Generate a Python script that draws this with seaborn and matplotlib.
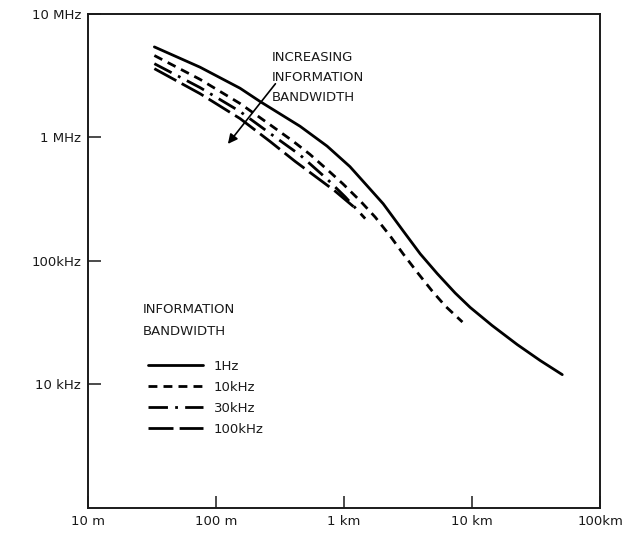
import matplotlib
matplotlib.use("Agg")
import matplotlib.pyplot as plt
import seaborn as sns
import pandas as pd

# --- Data ---
# distance in metres, frequency in Hz
DIST_1HZ = [33, 75, 154, 221, 453, 736, 1110, 1600, 2020, 2890, 3930, 5330,
            7360, 9650, 14300, 22500, 34000, 50500]
FREQ_1HZ = [5.4e6, 3.7e6, 2.5e6, 1.95e6, 1.23e6, 8.5e5, 5.8e5, 3.8e5, 2.9e5,
            1.75e5, 1.14e5, 7.9e4, 5.5e4, 4.2e4, 3.0e4, 2.1e4, 1.56e4, 1.2e4]

DIST_10K = [33, 75, 154, 263, 400, 540, 736, 980, 1340, 1750, 2290, 2890,
            3790, 4870, 6180, 8390]
FREQ_10K = [4.6e6, 2.95e6, 1.88e6, 1.27e6, 9.3e5, 7.3e5, 5.5e5, 4.2e5,
            3.05e5, 2.26e5, 1.59e5, 1.14e5, 7.9e4, 5.7e4, 4.3e4, 3.2e4]

DIST_30K = [33, 75, 154, 263, 453, 736, 1020, 1460]
FREQ_30K = [3.95e6, 2.53e6, 1.62e6, 1.08e6, 7.2e5, 4.6e5, 3.3e5, 2.2e5]

DIST_100K = [33, 75, 154, 263, 414, 593, 851, 1220]
FREQ_100K = [3.6e6, 2.26e6, 1.42e6, 9.3e5, 6.4e5, 4.85e5, 3.67e5, 2.68e5]

BANDS = ["1Hz", "10kHz", "30kHz", "100kHz"]

X_TICKS = [10, 100, 1000, 10000, 100000]
X_LABELS = ["10 m", "100 m", "1 km", "10 km", "100km"]
Y_TICKS = [1e4, 1e5, 1e6, 1e7]
Y_LABELS = ["10 kHz", "100kHz", "1 MHz", "10 MHz"]

ARROW_FROM = (300, 2.83e6)
ARROW_TO = (120, 8.5e5)

# --- Style ---
sns.set_style("ticks")
plt.rcParams["font.family"] = ["DejaVu Sans"]
plt.rcParams["text.color"] = "#1a1a1a"
plt.rcParams["xtick.color"] = "#1a1a1a"
plt.rcParams["ytick.color"] = "#1a1a1a"

frames = []
for band, d, f in zip(BANDS, [DIST_1HZ, DIST_10K, DIST_30K, DIST_100K],
                      [FREQ_1HZ, FREQ_10K, FREQ_30K, FREQ_100K]):
    frames.append(pd.DataFrame({"dist": d, "freq": f, "band": band}))
df = pd.concat(frames, ignore_index=True)

dash_map = {
    "1Hz": "",
    "10kHz": (3.2, 2.2),
    "30kHz": (7, 2.6, 1, 2.6),
    "100kHz": (9, 2.2),
}

fig = plt.figure(figsize=(6.42, 5.33), dpi=100)
ax = fig.add_axes([0.137, 0.047, 0.798, 0.927])

sns.lineplot(data=df, x="dist", y="freq", style="band", style_order=BANDS,
             dashes=dash_map, color="black", linewidth=2.0, sort=False,
             estimator=None, ax=ax)

ax.set_xscale("log")
ax.set_yscale("log")
ax.set_xlim(10, 100000)
ax.set_ylim(1e3, 1e7)
ax.set_xticks(X_TICKS)
ax.set_xticklabels(X_LABELS, fontsize=9.5)
ax.set_yticks(Y_TICKS)
ax.set_yticklabels(Y_LABELS, fontsize=9.5)
ax.minorticks_off()
ax.tick_params(direction="in", length=9, width=1.1, pad=5)
ax.set_xlabel("")
ax.set_ylabel("")
for sp in ax.spines.values():
    sp.set_visible(True)
    sp.set_linewidth(1.4)
    sp.set_color("#1a1a1a")

# annotation arrow + text
ax.annotate("", xy=ARROW_TO, xytext=ARROW_FROM,
            arrowprops=dict(arrowstyle="-|>", color="black", lw=1.2,
                            mutation_scale=14))
ax.text(0.359, 0.925, "INCREASING\nINFORMATION\nBANDWIDTH", fontsize=9.5,
        ha="left", va="top", linespacing=1.7, transform=ax.transAxes)

# legend: title as separate text so the gap to the entries can match
ax.text(0.107, 0.415, "INFORMATION\nBANDWIDTH", fontsize=9.5,
        ha="left", va="top", linespacing=1.95, transform=ax.transAxes)
sns.move_legend(ax, "upper left", bbox_to_anchor=(0.107, 0.31),
                title=None, frameon=False, borderaxespad=0,
                handlelength=4.2, handletextpad=0.8, labelspacing=0.6,
                fontsize=9.5)

fig.savefig("out.png", dpi=100)
